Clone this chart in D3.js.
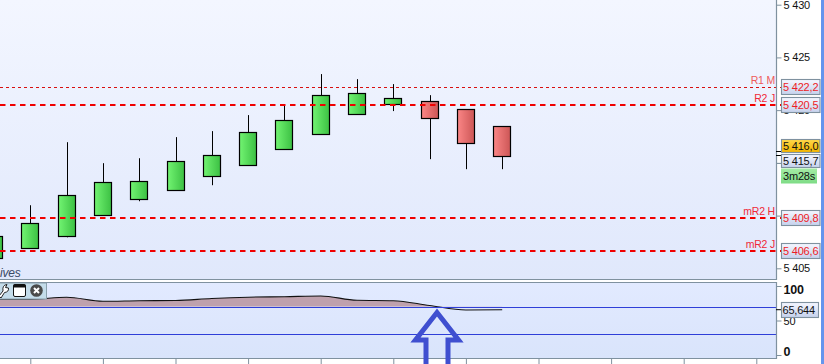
<!DOCTYPE html>
<html>
<head>
<meta charset="utf-8">
<script src="https://d3js.org/d3.v7.min.js"></script>
<style>
    html,body{margin:0;padding:0;background:#fff;overflow:hidden;}
    svg{display:block;}
    text{font-family:"Liberation Sans",Arial,sans-serif;font-size:11px;letter-spacing:-0.2px;}
</style>
</head>
<body>
<script>
// candles
const opens  = [5405.95,5406.94,5408.08,5410.08,5411.60,5412.45,5413.78,5414.82,5416.34,5417.69,5419.57,5420.52,5420.83,5420.07,5418.45];
const closes = [5408.03,5409.27,5411.99,5413.23,5413.32,5415.20,5415.77,5417.96,5419.05,5421.40,5421.59,5421.11,5419.19,5416.82,5415.58];
const highs  = [5408.03,5410.98,5416.96,5414.97,5415.44,5417.44,5418.01,5419.53,5420.48,5423.42,5422.94,5422.47,5421.42,5420.07,5418.45];
const lows   = [5405.95,5406.94,5407.94,5410.08,5411.36,5412.45,5412.88,5414.82,5416.34,5417.69,5419.57,5419.91,5415.35,5414.40,5414.40];

// horizontal levels
const levelNames  = ['R1 M','R2 J','mR2 H','mR2 J'];
const levelValues = [5422.2,5420.5,5409.8,5406.6];

const priceTicks = [5405,5410,5415,5420,5425,5430];
const lastPrice = 5416.0, bidPrice = 5415.7, countdown = '3m28s';

// lower indicator
const rsiValues = [81,81,83.6,77.8,78.6,79,81.9,83.8,84.5,85.5,79.3,78.7,71.7,65.2,65.644];
const rsiTicks = [0,50,100];
const rsiLevels = [70,30];
const timeTicks = [1,3,5,7,9,11,13,15,17,19,21];

const w = 824, h = 364, panelR = 776;

const x = d3.scaleLinear().domain([0,14]).range([-6,502.2]);
const y = d3.scaleLinear().domain([5405,5430]).range([268.3,4.7]);
const yr = d3.scaleLinear().domain([0,100]).range([355,286]);

const fmt = d => String(d).replace(/^(\d)(\d{3})/,'$1 $2');
const fmtDec = d => fmt(d.toFixed(1)).replace('.',',');

const svg = d3.select('body').append('svg').attr('width',w).attr('height',h);
const defs = svg.append('defs');

function gradient(id,x2,y2,c0,c1){
    const g = defs.append('linearGradient').attr('id',id)
        .attr('x1',0).attr('y1',0).attr('x2',x2).attr('y2',y2);
    g.append('stop').attr('offset',0).attr('stop-color',c0);
    g.append('stop').attr('offset',1).attr('stop-color',c1);
}
gradient('bgMain',0,1,'#f3f6ff','#e0e8fc');
gradient('bgLow',0,1,'#e2eaff','#d9e4fb');
gradient('up',1,0,'#72f472','#3cc043');
gradient('down',1,0,'#fb8686','#cc5656');
gradient('box',0,1,'#f5f7ff','#c5d1ec');
gradient('yellow',0,1,'#ffd84a','#f2b400');
gradient('green',0,1,'#a4eca4','#7edc86');

defs.append('clipPath').attr('id','clipLow').append('rect')
    .attr('x',0).attr('y',yr(100)-5).attr('width',panelR).attr('height',yr(70)-yr(100)+5);

svg.append('rect').attr('width',w).attr('height',h).attr('fill','#fff');
svg.append('rect').attr('x',821).attr('width',3).attr('height',h).attr('fill','#6495ed');

// main panel
svg.append('rect').attr('width',panelR).attr('height',279).attr('fill','url(#bgMain)');

// candles
const candles = svg.append('g').selectAll('g').data(d3.range(opens.length)).enter().append('g');
candles.append('line')
    .attr('x1',i=>Math.round(x(i))+0.5).attr('x2',i=>Math.round(x(i))+0.5)
    .attr('y1',i=>y(highs[i])).attr('y2',i=>y(lows[i]))
    .attr('stroke','#000').attr('stroke-width',1);
candles.append('rect')
    .attr('x',i=>Math.round(x(i))-8.5)
    .attr('y',i=>Math.round(y(Math.max(opens[i],closes[i])))+0.5)
    .attr('width',17)
    .attr('height',i=>Math.round(y(Math.min(opens[i],closes[i]))-y(Math.max(opens[i],closes[i]))))
    .attr('fill',i=>closes[i]>=opens[i]?'url(#up)':'url(#down)')
    .attr('stroke','#000').attr('stroke-width',1.2);

// level lines
svg.append('g').selectAll('line').data(levelValues).enter().append('line')
    .attr('x1',0).attr('x2',781)
    .attr('y1',(d,i)=>i==0?Math.round(y(d))+.5:Math.round(y(d)))
    .attr('y2',(d,i)=>i==0?Math.round(y(d))+.5:Math.round(y(d)))
    .attr('stroke',(d,i)=>i==0?'#d81010':'#f00000')
    .attr('stroke-width',(d,i)=>i==0?1:2)
    .attr('stroke-dasharray',(d,i)=>i==0?'3,3':'5.5,4.5');
svg.append('g').selectAll('text').data(levelNames).enter().append('text')
    .attr('x',panelR-1).attr('y',(d,i)=>Math.round(y(levelValues[i]))-3)
    .attr('text-anchor','end').attr('fill',(d,i)=>i==0?'#ee5a5a':'#f02838')
    .style('font-size','10.5px')
    .text(d=>d);

svg.append('text').attr('x',0).attr('y',277).attr('font-style','italic')
    .attr('fill','#3b4a66').style('font-size','12px').text('ives');

// lower panel
svg.append('rect').attr('x',0).attr('y',282).attr('width',panelR).attr('height',76).attr('fill','url(#bgLow)');

const area = d3.area().x((d,i)=>x(i)).y0(yr(70)).y1(d=>yr(d)).curve(d3.curveMonotoneX);
const line = d3.line().x((d,i)=>x(i)).y(d=>yr(d)).curve(d3.curveMonotoneX);
svg.append('path').datum(rsiValues).attr('d',area).attr('fill','#bfa1ad').attr('clip-path','url(#clipLow)');
svg.append('path').datum(rsiValues).attr('d',line).attr('fill','none').attr('stroke','#111').attr('stroke-width',1.1);

svg.append('g').selectAll('line').data(rsiLevels).enter().append('line')
    .attr('x1',0).attr('x2',panelR)
    .attr('y1',d=>Math.round(yr(d))+0.5).attr('y2',d=>Math.round(yr(d))+0.5)
    .attr('stroke','#2f3fd8').attr('stroke-width',1);

// toolbar of the indicator window
const bar = svg.append('g');
bar.append('rect').attr('x',-2).attr('y',283).attr('width',48.5).attr('height',16)
    .attr('fill','#c4dcea').attr('stroke','#8aa0ac');
bar.append('path').attr('d','M-1 296 L3 291 Q2 285 7 284.5 L5.5 287.5 L8.5 288 Q9 292 4.5 292.5 L1 298 Z')
    .attr('fill','#fff').attr('stroke','#222').attr('stroke-width',1);
bar.append('rect').attr('x',13.5).attr('y',284.5).attr('width',12).attr('height',12).attr('rx',1.5)
    .attr('fill','#fff').attr('stroke','#111');
bar.append('rect').attr('x',13.5).attr('y',284.5).attr('width',12).attr('height',3).attr('fill','#111');
bar.append('circle').attr('cx',36.5).attr('cy',290.5).attr('r',6.3).attr('fill','#4a4a4a');
bar.append('path').attr('d','M34 288 L39 293 M39 288 L34 293').attr('stroke','#fff').attr('stroke-width',2);

// panel borders
const border = '#7f919f';
svg.append('path').attr('fill','none').attr('stroke',border).attr('stroke-width',1.2)
    .attr('d',`M0 279.5H${panelR+.5}V0 M0 282.5H${panelR+.5}V358.5H0`);

// right axes
const axisMain = d3.axisRight(y).tickValues(priceTicks).tickFormat(fmt).tickSize(5).tickPadding(2);
const axisLow = d3.axisRight(yr).tickValues(rsiTicks).tickSize(5).tickPadding(2);
const ga = svg.append('g').attr('transform',`translate(${panelR+.5},0)`).call(axisMain);
const gb = svg.append('g').attr('transform',`translate(${panelR+.5},0)`).call(axisLow);
[ga,gb].forEach(g=>{
    g.select('.domain').remove();
    g.selectAll('line').attr('stroke',border);
    g.selectAll('text').attr('fill','#111');
    g.attr('font-family',null).attr('font-size',null);
});
gb.selectAll('text').filter(d=>d!=50)
    .style('font-weight','bold').style('font-size','12.5px')
    .attr('dy',d=>d==100?'0.6em':'0.05em');

// bottom time ticks
const gt = svg.append('g').attr('transform','translate(0,358.5)')
    .call(d3.axisBottom(x).tickValues(timeTicks).tickSize(6).tickFormat(''));
gt.select('.domain').remove();
gt.selectAll('line').attr('stroke',border);

// price tags on the axis
function tag(top,txt,fill,color,bh){
    svg.append('rect').attr('x',781.5).attr('y',top).attr('width',38.5).attr('height',bh)
        .attr('fill',fill).attr('stroke',border).attr('stroke-width',1.1);
    svg.append('text').attr('x',783).attr('y',top+bh/2+4).attr('fill',color).text(txt);
}
levelValues.forEach(v=>tag(Math.round(y(v))-7.5,fmtDec(v),'url(#box)','#ee1c25',15));
// last price and bid sit a little apart so that they do not overlap
svg.append('path').attr('d',`M776 ${Math.round(y(lastPrice))-.5}h5 M776 ${Math.round(y(bidPrice))+.5}h5`).attr('stroke','#000');
svg.append('path').attr('d',`M776 163.5h5`).attr('stroke',border);
tag(Math.round(y(lastPrice))-12.5,fmtDec(lastPrice),'url(#yellow)','#111',13);
tag(Math.round(y(bidPrice))-.5,fmtDec(bidPrice),'url(#box)','#111',13);
svg.append('rect').attr('x',781).attr('y',168.5).attr('width',36).attr('height',15).attr('fill','url(#green)');
svg.append('text').attr('x',783).attr('y',180).attr('fill','#111').text(countdown);
svg.append('rect').attr('x',781.5).attr('y',302.5).attr('width',37).attr('height',15)
    .attr('fill','url(#box)').attr('stroke',border).attr('stroke-width',1.1);
svg.append('text').attr('x',782.5).attr('y',314).attr('fill','#111').text('65,644');
svg.append('path').attr('d',`M776 ${yr(65.644)}h5`).attr('stroke','#000');

// hand drawn arrow on top of the screenshot
svg.append('path').attr('d','M426 366V340H415.5L437 312.5L458.5 340H448V366')
    .attr('fill','none').attr('stroke','#3f4fd0').attr('stroke-width',5).attr('stroke-linejoin','miter');
</script>
</body>
</html>
